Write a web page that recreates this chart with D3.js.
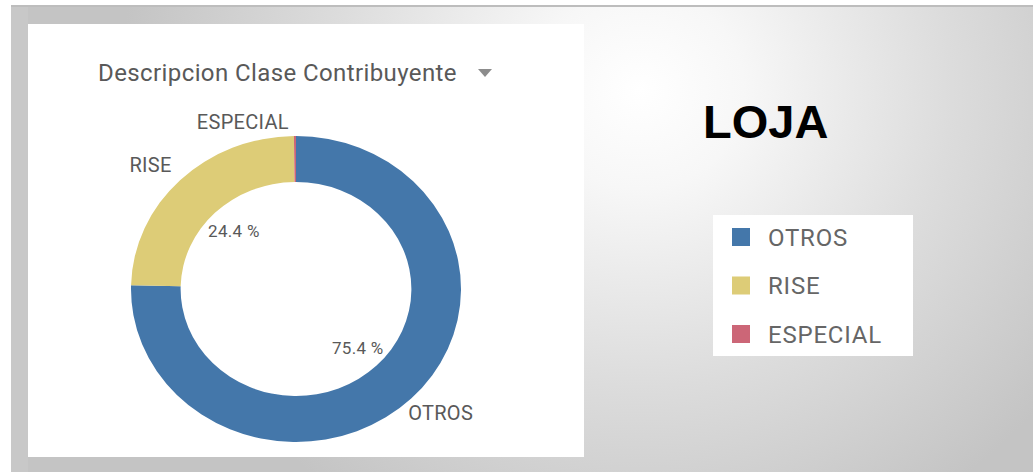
<!DOCTYPE html>
<html><head><meta charset="utf-8">
<script src="https://cdn.jsdelivr.net/npm/d3@7"></script>
<style>
html,body{margin:0;padding:0;background:#fff;}
svg{display:block;}
</style></head>
<body>
<svg id="chart" width="1033" height="472"></svg>
<script>
const categories = ["OTROS", "RISE", "ESPECIAL"];
const values = [75.4, 24.4, 0.2];
const colors = ["#4477aa", "#ddcc77", "#cc6677"];
const title = "Descripcion Clase Contribuyente";
const heading = "LOJA";

const svg = d3.select("#chart");
const defs = svg.append("defs");
const grad = defs.append("radialGradient").attr("id","bg")
  .attr("gradientUnits","userSpaceOnUse")
  .attr("cx",640).attr("cy",90).attr("r",520)
  .attr("gradientTransform","translate(640,90) scale(1,0.95) translate(-640,-90)");
grad.append("stop").attr("offset",0).attr("stop-color","#ffffff");
grad.append("stop").attr("offset",0.2).attr("stop-color","#f7f7f7");
grad.append("stop").attr("offset",0.6).attr("stop-color","#dcdcdc");
grad.append("stop").attr("offset",1).attr("stop-color","#c4c4c4");

// frame
svg.append("rect").attr("x",11).attr("y",6).attr("width",1022).attr("height",466).attr("fill","url(#bg)");
svg.append("rect").attr("x",11).attr("y",5).attr("width",1022).attr("height",2).attr("fill","#bdbdbd");
svg.append("rect").attr("x",11).attr("y",7).attr("width",17).attr("height",465).attr("fill","#c8c8c8");

// white panel
svg.append("rect").attr("x",28).attr("y",24).attr("width",556).attr("height",433).attr("fill","#ffffff");

// title
svg.append("text").attr("x",98).attr("y",81)
  .attr("font-family","Roboto, 'Open Sans', sans-serif").attr("font-size",24)
  .attr("fill","#595959").attr("letter-spacing",0.4).text(title);
svg.append("path").attr("d","M478,69 L492,69 L485,77 Z").attr("fill","#8c8c8c");

// donut
const cx = 296, cy = 289, sx = 165/153;
const outerR = 153, innerR = 107;
const pie = d3.pie().sort(null).value(d => d.v).startAngle(0).endAngle(2*Math.PI);
const data = categories.map((c,i)=>({c, v: values[i], col: colors[i]}));
const arcs = pie(data);
const arc = d3.arc().innerRadius(innerR).outerRadius(outerR);
const g = svg.append("g").attr("transform",`translate(${cx},${cy})`);
const ring = g.append("g").attr("transform",`scale(${sx},1)`);
ring.selectAll("path").data(arcs).join("path")
  .attr("d",arc).attr("fill",d=>d.data.col);

const total = d3.sum(values);
function pt(a, r){ return [Math.sin(a)*r*sx, -Math.cos(a)*r]; }

// inside percentage labels
arcs.filter(d => d.data.v/total > 0.05).forEach(d=>{
  const m = (d.startAngle+d.endAngle)/2;
  const [x,y] = pt(m, 82);
  g.append("text").attr("x",x).attr("y",y).attr("dy","0.35em")
    .attr("text-anchor","middle")
    .attr("font-family","Roboto, 'Open Sans', sans-serif").attr("font-size",17)
    .attr("fill","#595959").attr("letter-spacing",0.3).text(d3.format(".1f")(d.data.v)+" %");
});

// outer category labels
arcs.forEach(d=>{
  const m = (d.startAngle+d.endAngle)/2;
  const small = d.data.v/total < 0.02;
  let x,y,anchor;
  if (small){ [x,y] = pt(m, 167); anchor = "end"; x -= 6; }
  else { [x,y] = pt(m - 0.05, 183); anchor = "middle"; }
  g.append("text").attr("x",x).attr("y",y).attr("dy","0.35em")
    .attr("text-anchor",anchor)
    .attr("font-family","Roboto, 'Open Sans', sans-serif").attr("font-size",20)
    .attr("fill","#595959").attr("letter-spacing",0.3).text(d.data.c);
});

// heading
svg.append("text").attr("x",703).attr("y",138)
  .attr("font-family","'Liberation Sans', Arial, sans-serif").attr("font-weight","bold")
  .attr("font-size",47).attr("fill","#000").text(heading);

// legend
const lg = svg.append("g");
lg.append("rect").attr("x",713).attr("y",215).attr("width",200).attr("height",141).attr("fill","#fff");
const ly = d3.scalePoint().domain(categories).range([237,334]);
categories.forEach((c,i)=>{
  lg.append("rect").attr("x",732).attr("y",ly(c)-9).attr("width",18).attr("height",18).attr("fill",colors[i]);
  lg.append("text").attr("x",768).attr("y",ly(c)).attr("dy","0.36em")
    .attr("font-family","Roboto, 'Open Sans', sans-serif").attr("font-size",24)
    .attr("fill","#666").attr("letter-spacing",0.8).text(c);
});
</script>
</body></html>
